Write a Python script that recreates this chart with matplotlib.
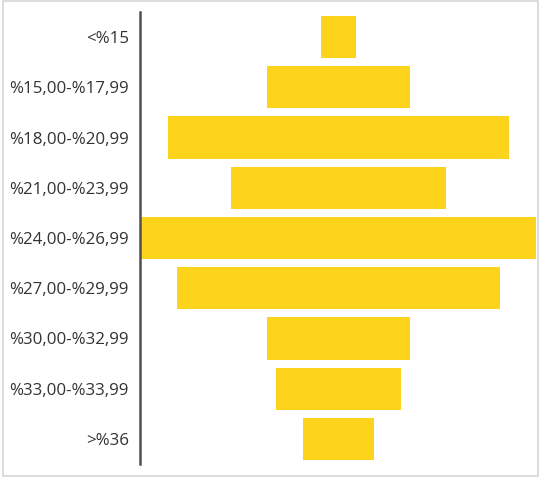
import matplotlib
matplotlib.use("Agg")
import matplotlib.pyplot as plt
from matplotlib.patches import Rectangle

categories = ["<%15", "%15,00-%17,99", "%18,00-%20,99", "%21,00-%23,99", "%24,00-%26,99",
              "%27,00-%29,99", "%30,00-%32,99", "%33,00-%33,99", ">%36"]
values = [2, 8, 19, 12, 22, 18, 8, 7, 4]

plt.rcParams['font.family'] = ['Open Sans', 'DejaVu Sans']

W, H = 540, 480
fig = plt.figure(figsize=(W/100, H/100), dpi=100)
fig.patches.append(Rectangle((3/W, 4/H), 535/W, 475/H, transform=fig.transFigure,
                             fill=False, edgecolor='#d6d6d6', linewidth=1.2))

ax = fig.add_axes([140/W, 1 - 464/H, 397/W, 452/H])
n = len(categories)
ypos = list(range(n))
lefts = [-v/2 for v in values]
ax.barh(ypos, values, left=lefts, height=0.84, color='#FDD31C', edgecolor='none')
ax.set_ylim(n - 0.5, -0.5)
maxv = max(values)
ax.set_xlim(-maxv/2 - 0.03, maxv/2 + 0.03)
ax.set_yticks(ypos)
ax.set_yticklabels(categories, fontsize=12.2, color='#333333')
ax.tick_params(axis='y', length=0, pad=8)
ax.set_xticks([])
for s in ['top', 'right', 'bottom']:
    ax.spines[s].set_visible(False)
ax.spines['left'].set_color('#505050')
ax.spines['left'].set_linewidth(1.8)

fig.savefig("out.png", dpi=100)
